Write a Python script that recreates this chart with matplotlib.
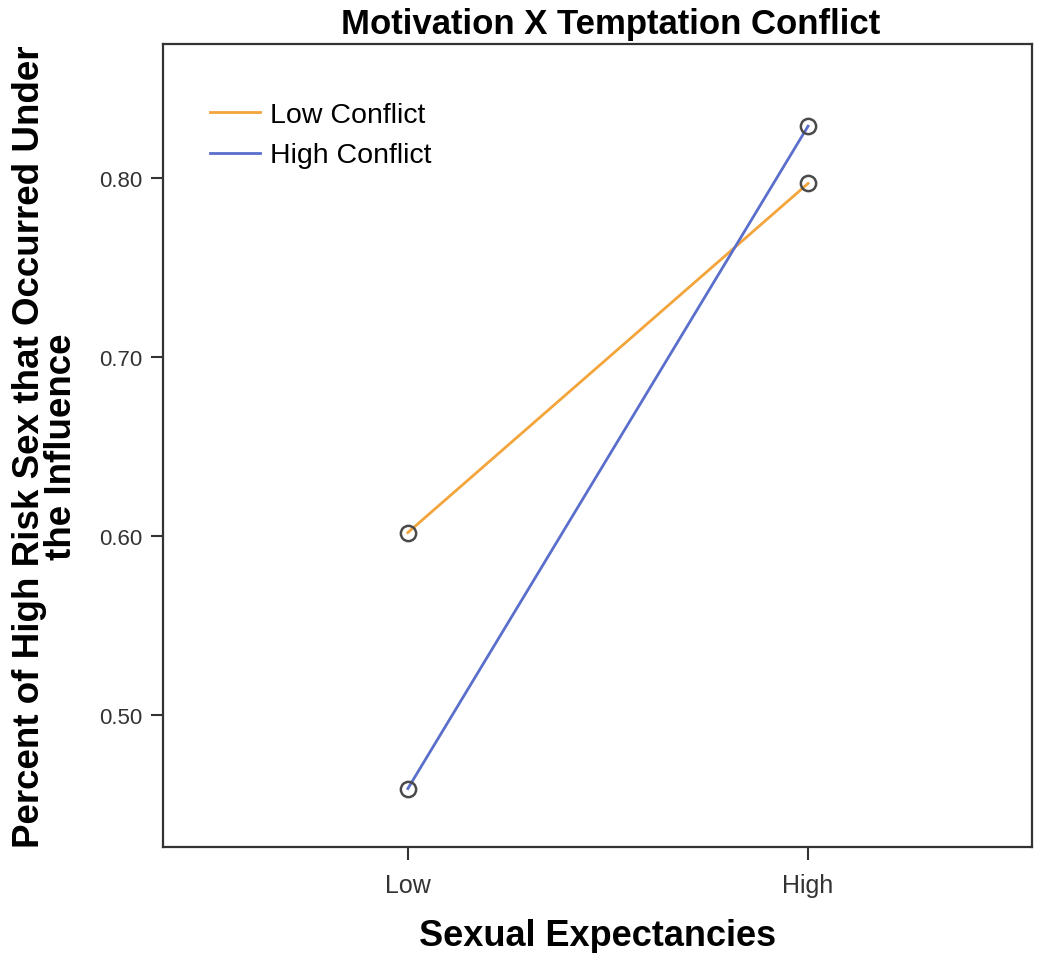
import numpy as np
import matplotlib.pyplot as plt

plt.rcParams['font.family'] = ['Liberation Sans', 'DejaVu Sans']

categories = ['Low', 'High']
low_conflict = [0.602, 0.797]
high_conflict = [0.459, 0.829]
y_ticks = [0.50, 0.60, 0.70, 0.80]

fig = plt.figure(figsize=(10.5, 9.54), dpi=100)
ax = fig.add_axes([0.155, 0.111, 0.828, 0.842])

x = np.arange(len(categories))
ax.plot(x, low_conflict, color='#f3a53c', lw=2.0, label='Low Conflict', zorder=2)
ax.plot(x, high_conflict, color='#5a6fcc', lw=2.0, label='High Conflict', zorder=2)
ax.plot(x, low_conflict, 'o', mfc='none', mec='#4a4a4a', ms=11, mew=1.8, zorder=3)
ax.plot(x, high_conflict, 'o', mfc='none', mec='#4a4a4a', ms=11, mew=1.8, zorder=3)

ax.set_xlim(-0.6125, 1.56)
ax.set_ylim(0.4263, 0.875)
ax.set_xticks(x)
ax.set_xticklabels(categories)
ax.set_yticks(y_ticks)
ax.set_yticklabels(['%.2f' % v for v in y_ticks])
ax.tick_params(axis='both', direction='out', length=9, width=1.5, colors='#333333')
ax.tick_params(axis='y', labelsize=16, pad=6)
ax.tick_params(axis='x', labelsize=18, pad=10)
for s in ax.spines.values():
    s.set_linewidth(1.6)
    s.set_color('#333333')

ax.set_title('Motivation X Temptation Conflict', fontsize=25, fontweight='bold', pad=8,
             x=0.515)
ax.set_xlabel('Sexual Expectancies', fontsize=26, fontweight='bold', labelpad=15)
ax.set_ylabel('Percent of High Risk Sex that Occurred Under\nthe Influence',
              fontsize=26.5, fontweight='bold', labelpad=14, linespacing=0.9)

leg = ax.legend(loc='upper left', frameon=False, fontsize=20.5, handlelength=1.75,
                bbox_to_anchor=(0.054, 0.928), borderaxespad=0, borderpad=0,
                labelspacing=0.52, handletextpad=0.36)

fig.savefig('out.png', dpi=100)
